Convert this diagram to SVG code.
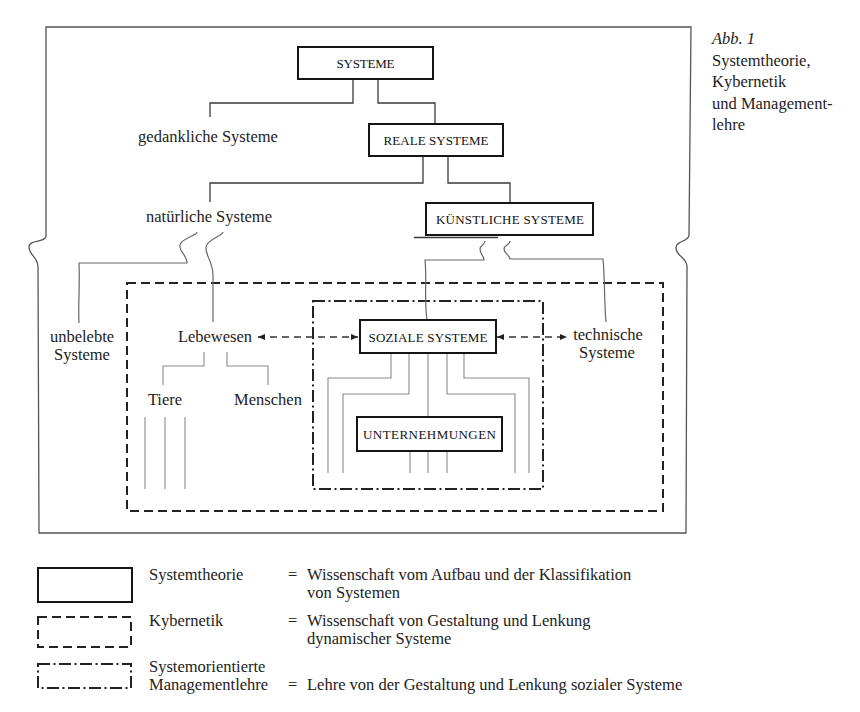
<svg xmlns="http://www.w3.org/2000/svg" width="860" height="712" viewBox="0 0 860 712">
<style>
.bg{fill:#ffffff}
.t{font-family:"Liberation Serif","Times New Roman",serif;font-size:16.5px;fill:#222}
.ti{font-family:"Liberation Serif","Times New Roman",serif;font-size:16.5px;fill:#222;font-style:italic}
.sc{font-family:"Liberation Serif","Times New Roman",serif;font-size:13px;fill:#111;text-anchor:middle}
.m{text-anchor:middle}
.box{fill:#fff;stroke:#151515;stroke-width:2}
.frame{fill:none;stroke:#555;stroke-width:1.3}
.kyb{fill:none;stroke:#222;stroke-width:2;stroke-dasharray:9 5}
.mgmt{fill:none;stroke:#222;stroke-width:2;stroke-dasharray:12 3.5 2 3.5}
.c{fill:none;stroke:#3a3a3a;stroke-width:1.3}
.w{fill:none;stroke:#666;stroke-width:1.2}
.g{fill:none;stroke:#8a8a8a;stroke-width:1.1}
.arr{fill:none;stroke:#333;stroke-width:1.3;stroke-dasharray:7 5;marker-start:url(#ah);marker-end:url(#ah)}
</style>
<defs>
<marker id="ah" viewBox="0 0 7 6" refX="7" refY="3" markerWidth="7" markerHeight="6" markerUnits="userSpaceOnUse" orient="auto-start-reverse">
<path d="M0,0 L7,3 L0,6 z" fill="#222"/>
</marker>
</defs>
<rect class="bg" x="0" y="0" width="860" height="712"/>

<g id="frames">
<path id="systemtheorie-frame" class="frame" d="M46,236 L46,27 L691,27 L689,235 C689,242 676,240 676,248 C676,256 686,257 687,266 L686,533 L39,533 L38,266 C37,256 29,255 29,247 C29,239 46,243 46,236 Z"/>
<rect id="kybernetik-frame" class="kyb" x="127" y="283" width="536" height="228"/>
<rect id="management-frame" class="mgmt" x="313" y="301" width="230" height="188"/>
</g>

<g id="connectors">
<path class="c" d="M353,79 V103 H210 V117"/>
<path class="c" d="M378,79 V103 H435 V124"/>
<path class="c" d="M423,156 V183 H210 V202"/>
<path class="c" d="M448,156 V183 H510 V203"/>
<path class="c" d="M414,237.5 H498" stroke-width="1.8"/>
<path class="w" d="M197,232 C197,236 181,238 180,245 C179,252 187,255 187,263 H79 C80,285 78,305 79,323"/>
<path class="w" d="M223,232 C223,236 207,239 206,247 C205,255 213,262 213,275 V322"/>
<path class="w" d="M485,241 C485,245 480,245 480,249 C480,254 484,256 484,260 H425 C427,280 424,300 427,320"/>
<path class="w" d="M510,241 C510,245 504,245 504,249 C504,254 510,255 510,259 H603 C605,280 604,300 606,322"/>
<path class="arr" d="M258,337 H358"/>
<path class="arr" d="M497,337 H567"/>
<path class="g" d="M204,352 V366 H163 V385"/>
<path class="g" d="M227,352 V366 H268 V385"/>
<path class="g" d="M145,417 V489 M165,417 V489 M185,417 V489"/>
<path class="g" d="M391,353 V378 H328 V473"/>
<path class="g" d="M409,353 V394 H343 V473"/>
<path class="g" d="M428,353 V417 M428,451 V473"/>
<path class="g" d="M447,353 V394 H515 V473"/>
<path class="g" d="M464,353 V378 H529 V473"/>
<path class="g" d="M410,451 V473 M447,451 V473"/>
</g>

<g id="node-systeme">
<rect class="box" x="298" y="47" width="135" height="32"/>
<text class="sc" x="365.5" y="67.5" textLength="58" lengthAdjust="spacing">SYSTEME</text>
</g>
<g id="node-gedankliche">
<text class="t m" x="208" y="142">gedankliche Systeme</text>
</g>
<g id="node-reale">
<rect class="box" x="369" y="124" width="134" height="32"/>
<text class="sc" x="436" y="144.5" textLength="105" lengthAdjust="spacing">REALE SYSTEME</text>
</g>
<g id="node-natuerliche">
<text class="t m" x="209" y="222">natürliche Systeme</text>
</g>
<g id="node-kuenstliche">
<rect class="box" x="426" y="203" width="167" height="32"/>
<text class="sc" x="510" y="223.5" textLength="148" lengthAdjust="spacing">KÜNSTLICHE SYSTEME</text>
</g>
<g id="node-unbelebte">
<text class="t m" x="82" y="342">unbelebte</text>
<text class="t m" x="82" y="360">Systeme</text>
</g>
<g id="node-lebewesen">
<text class="t m" x="215" y="342">Lebewesen</text>
</g>
<g id="node-tiere">
<text class="t m" x="165" y="405">Tiere</text>
</g>
<g id="node-menschen">
<text class="t m" x="268" y="405">Menschen</text>
</g>
<g id="node-soziale">
<rect class="box" x="360" y="320" width="136" height="33"/>
<text class="sc" x="428" y="341.5" textLength="119" lengthAdjust="spacing">SOZIALE SYSTEME</text>
</g>
<g id="node-unternehmungen">
<rect class="box" x="357" y="417" width="145" height="34"/>
<text class="sc" x="429.5" y="438.5" textLength="133" lengthAdjust="spacing">UNTERNEHMUNGEN</text>
</g>
<g id="node-technische">
<text class="t m" x="608" y="340">technische</text>
<text class="t m" x="607" y="358">Systeme</text>
</g>

<g id="caption">
<text class="ti" x="712" y="44">Abb. 1</text>
<text class="t" x="712" y="66">Systemtheorie,</text>
<text class="t" x="712" y="87">Kybernetik</text>
<text class="t" x="712" y="109">und Management-</text>
<text class="t" x="712" y="130">lehre</text>
</g>

<g id="legend">
<rect class="box" x="38" y="568" width="94" height="34"/>
<rect class="kyb" x="38" y="617" width="93" height="30" stroke-dasharray="10 5"/>
<rect class="mgmt" x="38" y="664" width="93" height="24" stroke-width="1.6"/>
<text class="t" x="149" y="580">Systemtheorie</text>
<text class="t" x="288" y="580">=</text>
<text class="t" x="307" y="580">Wissenschaft vom Aufbau und der Klassifikation</text>
<text class="t" x="307" y="598">von Systemen</text>
<text class="t" x="149" y="626">Kybernetik</text>
<text class="t" x="288" y="626">=</text>
<text class="t" x="307" y="626">Wissenschaft von Gestaltung und Lenkung</text>
<text class="t" x="307" y="644">dynamischer Systeme</text>
<text class="t" x="149" y="672">Systemorientierte</text>
<text class="t" x="149" y="690">Managementlehre</text>
<text class="t" x="288" y="690">=</text>
<text class="t" x="307" y="690">Lehre von der Gestaltung und Lenkung sozialer Systeme</text>
</g>
</svg>
